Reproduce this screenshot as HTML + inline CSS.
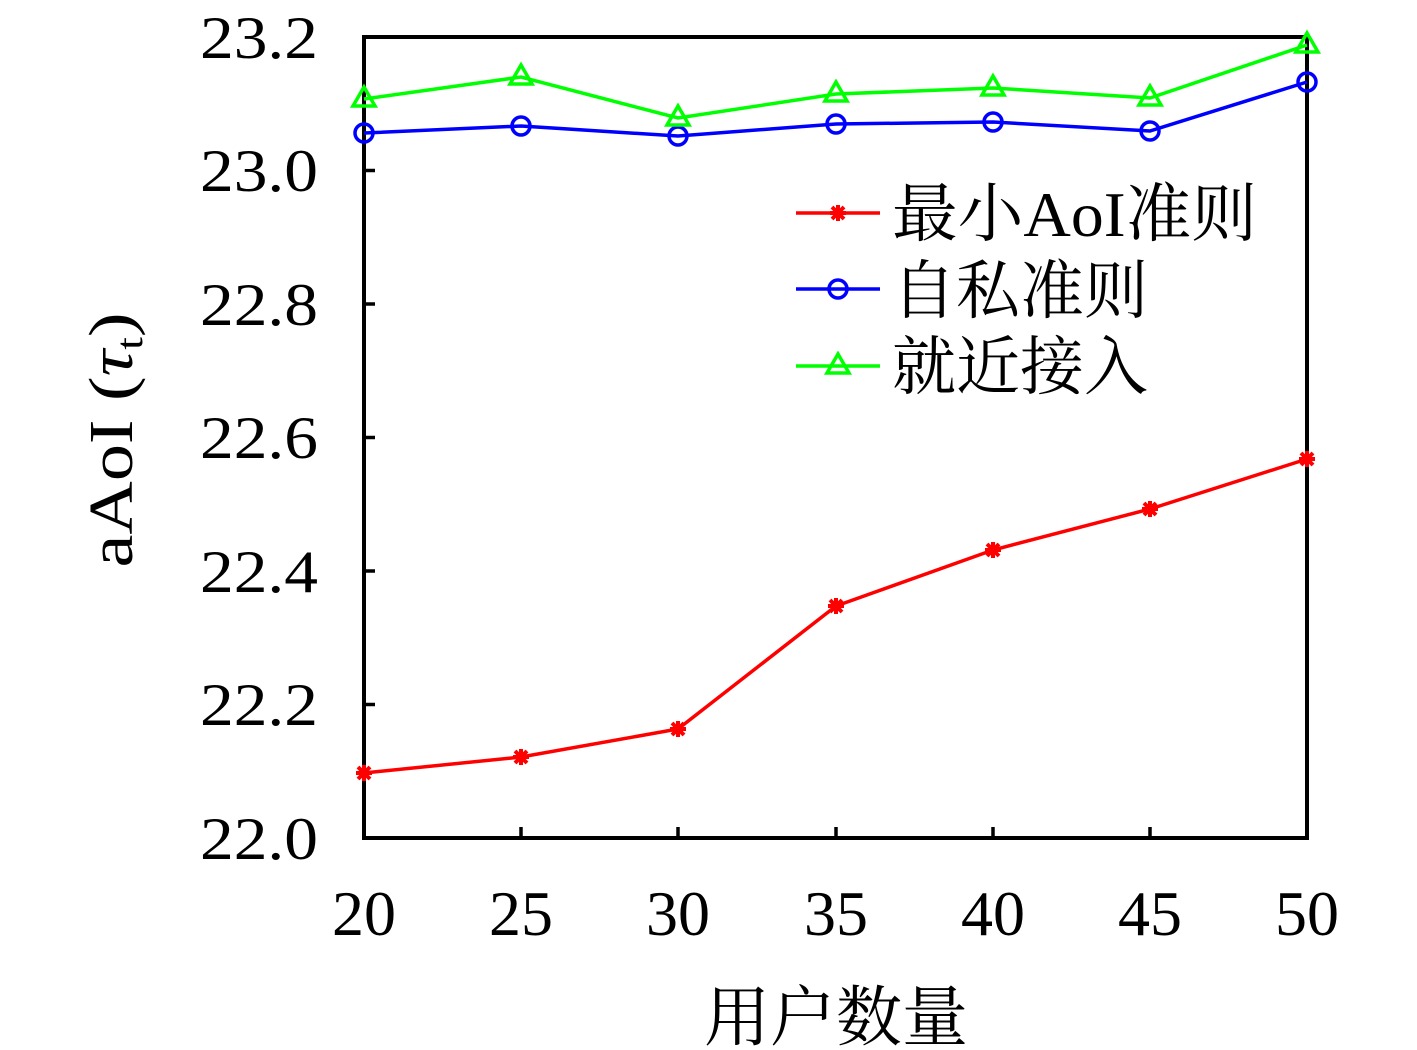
<!DOCTYPE html>
<html><head><meta charset="utf-8"><style>body{margin:0;background:#fff}svg{display:block}</style></head><body>
<svg width="1417" height="1050" xmlns="http://www.w3.org/2000/svg" font-family="'Liberation Serif','Noto Serif CJK SC',serif">
<rect x="0" y="0" width="1417" height="1050" fill="#fff"/>
<g stroke="#000" stroke-width="3.5">
<line x1="364" y1="704.5" x2="375" y2="704.5"/><line x1="364" y1="571" x2="375" y2="571"/><line x1="364" y1="437.5" x2="375" y2="437.5"/><line x1="364" y1="304" x2="375" y2="304"/><line x1="364" y1="170.5" x2="375" y2="170.5"/>
<line x1="521" y1="838" x2="521" y2="827"/><line x1="678" y1="838" x2="678" y2="827"/><line x1="836" y1="838" x2="836" y2="827"/><line x1="993" y1="838" x2="993" y2="827"/><line x1="1150" y1="838" x2="1150" y2="827"/>
</g>
<rect x="364" y="37" width="943" height="801" fill="none" stroke="#000" stroke-width="4"/>
<g font-size="60">
<text x="200" y="859" textLength="118" lengthAdjust="spacingAndGlyphs">22.0</text><text x="200" y="725" textLength="118" lengthAdjust="spacingAndGlyphs">22.2</text><text x="200" y="592" textLength="118" lengthAdjust="spacingAndGlyphs">22.4</text><text x="200" y="458" textLength="118" lengthAdjust="spacingAndGlyphs">22.6</text><text x="200" y="325" textLength="118" lengthAdjust="spacingAndGlyphs">22.8</text><text x="200" y="191" textLength="118" lengthAdjust="spacingAndGlyphs">23.0</text><text x="200" y="58" textLength="118" lengthAdjust="spacingAndGlyphs">23.2</text>
</g>
<g font-size="64" text-anchor="middle">
<text x="364" y="935">20</text><text x="521" y="935">25</text><text x="678" y="935">30</text><text x="836" y="935">35</text><text x="993" y="935">40</text><text x="1150" y="935">45</text><text x="1307" y="935">50</text>
<text x="836" y="1040" font-family="'Noto Serif CJK SC','Noto Sans CJK SC',serif" font-size="66">用户数量</text>
</g>
<text transform="translate(132,440) rotate(-90)" font-size="62" text-anchor="middle" textLength="255" lengthAdjust="spacingAndGlyphs">aAoI (<tspan font-style="italic">τ</tspan><tspan font-size="38" dy="10">t</tspan><tspan dy="-10">)</tspan></text>
<polyline fill="none" stroke="#f00" stroke-width="3.5" points="364,773 521,757 678,729 836,606 993,550 1150,509 1307,459"/>
<polyline fill="none" stroke="#00f" stroke-width="3.5" points="364,133 521,126 678,136 836,124 993,122 1150,131 1307,82"/>
<polyline fill="none" stroke="#0f0" stroke-width="3.5" points="364,99 521,77 678,118 836,94 993,88 1150,98 1307,45"/>
<defs><g id="st" stroke="#f00" stroke-width="4"><line x1="-8" y1="0" x2="8" y2="0"/><line x1="0" y1="-8" x2="0" y2="8"/><line x1="-6" y1="-6" x2="6" y2="6"/><line x1="-6" y1="6" x2="6" y2="-6"/></g></defs>
<use href="#st" x="364" y="773"/><use href="#st" x="521" y="757"/><use href="#st" x="678" y="729"/><use href="#st" x="836" y="606"/><use href="#st" x="993" y="550"/><use href="#st" x="1150" y="509"/><use href="#st" x="1307" y="459"/><use href="#st" x="838" y="213"/>
<g fill="none" stroke="#00f" stroke-width="3.5">
<circle cx="364" cy="133" r="9"/><circle cx="521" cy="126" r="9"/><circle cx="678" cy="136" r="9"/><circle cx="836" cy="124" r="9"/><circle cx="993" cy="122" r="9"/><circle cx="1150" cy="131" r="9"/><circle cx="1307" cy="82" r="9"/><circle cx="838" cy="289" r="9"/>
</g>
<g fill="none" stroke="#0f0" stroke-width="3.5">
<polygon points="364,87 375,106 353,106"/><polygon points="521,65 532,84 510,84"/><polygon points="678,106 689,125 667,125"/><polygon points="836,82 847,101 825,101"/><polygon points="993,76 1004,95 982,95"/><polygon points="1150,86 1161,105 1139,105"/><polygon points="1307,33 1318,52 1296,52"/><polygon points="838,354 849,373 827,373"/>
</g>
<line x1="796" y1="213" x2="880" y2="213" stroke="#f00" stroke-width="3.5"/>
<line x1="796" y1="289" x2="880" y2="289" stroke="#00f" stroke-width="3.5"/>
<line x1="796" y1="366" x2="880" y2="366" stroke="#0f0" stroke-width="3.5"/>
<g font-size="64" font-family="'Liberation Serif','Noto Serif CJK SC',serif">
<text x="892" y="236" textLength="365" lengthAdjust="spacingAndGlyphs">最小AoI准则</text>
<text x="892" y="313">自私准则</text>
<text x="892" y="389">就近接入</text>
</g>
</svg>
</body></html>
